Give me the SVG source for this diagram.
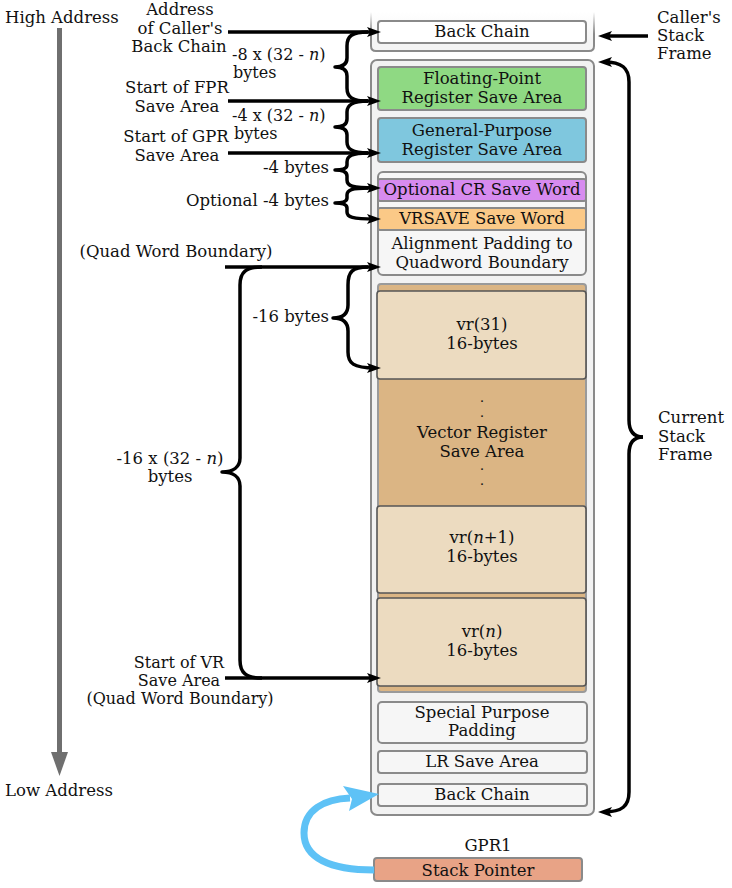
<svg xmlns="http://www.w3.org/2000/svg" width="732" height="888" viewBox="0 0 732 888">
<style>
text{font-family:"DejaVu Serif","Liberation Serif",serif;font-size:16.5px;fill:#111}
.m{text-anchor:middle}
.e{text-anchor:end}
.i{font-style:italic}
.s{font-size:16px}
.dot{font-size:10px;font-weight:bold;text-anchor:middle}
.box{stroke:#8a8a8a;stroke-width:2}
.vr{fill:#ecdbc0;stroke:#555;stroke-width:1.6}
.ln{stroke:#000;stroke-width:3.5;fill:none}
.br{stroke:#000;stroke-width:3.5;fill:none;stroke-linejoin:round}
</style>
<defs>
<marker id="ah" markerUnits="userSpaceOnUse" markerWidth="14" markerHeight="10" refX="8" refY="5" orient="auto">
<path d="M0,0 L14,5 L0,10 L3,5 z" fill="#000"/>
</marker>
<linearGradient id="fade" gradientUnits="userSpaceOnUse" x1="0" y1="12" x2="0" y2="34">
<stop offset="0" stop-color="#8a8a8a" stop-opacity="0"/>
<stop offset="1" stop-color="#8a8a8a" stop-opacity="1"/>
</linearGradient>
<linearGradient id="fadefill" gradientUnits="userSpaceOnUse" x1="0" y1="12" x2="0" y2="40">
<stop offset="0" stop-color="#f4f4f4" stop-opacity="0"/>
<stop offset="1" stop-color="#f4f4f4" stop-opacity="1"/>
</linearGradient>
</defs>

<g id="address-axis">
<text x="5" y="23">High Address</text>
<rect x="57" y="28" width="5" height="728" fill="#6f6f6f"/>
<polygon points="51,752 68,752 59.5,776" fill="#6f6f6f"/>
<text x="5" y="796">Low Address</text>
</g>

<g id="callers-frame">
<path d="M371,12 L371,46 Q371,51 376,51 L589,51 Q594,51 594,46 L594,12" fill="url(#fadefill)" stroke="url(#fade)" stroke-width="2"/>
<rect x="378" y="21" width="208" height="22" rx="3" fill="#fff" class="box"/>
<text x="482" y="37" class="m">Back Chain</text>
</g>

<g id="current-frame">
<rect x="371" y="60" width="223" height="755" rx="6" fill="#f2f2f2" class="box"/>
</g>

<g id="fpr">
<rect x="378" y="67" width="208" height="43" rx="3" fill="#8fd983" class="box"/>
<text x="482" y="84" class="m">Floating-Point</text>
<text x="482" y="103" class="m">Register Save Area</text>
</g>

<g id="gpr">
<rect x="378" y="118" width="208" height="44" rx="3" fill="#7fc7de" class="box"/>
<text x="482" y="136" class="m">General-Purpose</text>
<text x="482" y="155" class="m">Register Save Area</text>
</g>

<g id="word-group">
<rect x="378" y="172" width="208" height="103" rx="5" fill="#f6f6f6" class="box"/>
</g>
<g id="cr">
<rect x="378" y="179" width="208" height="22" rx="2" fill="#d78bef" class="box"/>
<text x="482" y="195" class="m">Optional CR Save Word</text>
</g>
<g id="vrsave">
<rect x="378" y="208" width="208" height="22" rx="2" fill="#fbc987" class="box"/>
<text x="482" y="224" class="m">VRSAVE Save Word</text>
</g>
<g id="alignment">
<text x="482" y="249" class="m">Alignment Padding to</text>
<text x="482" y="268" class="m">Quadword Boundary</text>
</g>

<g id="vr-area">
<rect x="378" y="284" width="208" height="408" rx="3" fill="#dbb584" stroke="#9a9a9a" stroke-width="2"/>
<text x="482" y="402" class="dot">.</text>
<text x="482" y="417" class="dot">.</text>
<text x="482" y="438" class="m">Vector Register</text>
<text x="482" y="457" class="m">Save Area</text>
<text x="482" y="470" class="dot">.</text>
<text x="482" y="485" class="dot">.</text>
</g>
<g id="vr31">
<rect x="377" y="291" width="209" height="88" rx="3" class="vr"/>
<text x="482" y="330" class="m">vr(31)</text>
<text x="482" y="349" class="m">16-bytes</text>
</g>
<g id="vrn1">
<rect x="377" y="506" width="209" height="87" rx="3" class="vr"/>
<text x="482" y="543" class="m">vr(<tspan class="i">n</tspan>+1)</text>
<text x="482" y="562" class="m">16-bytes</text>
</g>
<g id="vrn">
<rect x="377" y="598" width="209" height="88" rx="3" class="vr"/>
<text x="482" y="637" class="m">vr(<tspan class="i">n</tspan>)</text>
<text x="482" y="656" class="m">16-bytes</text>
</g>

<g id="special-padding">
<rect x="378" y="702" width="209" height="41" rx="4" fill="#f6f6f6" class="box"/>
<text x="482" y="718" class="m">Special Purpose</text>
<text x="482" y="736" class="m">Padding</text>
</g>
<g id="lr-save">
<rect x="378" y="751" width="209" height="22" rx="3" fill="#f6f6f6" class="box"/>
<text x="482" y="767" class="m">LR Save Area</text>
</g>
<g id="back-chain">
<rect x="378" y="784" width="209" height="22" rx="3" fill="#f6f6f6" class="box"/>
<text x="482" y="800" class="m">Back Chain</text>
</g>

<g id="stack-pointer">
<text x="488" y="851" class="m">GPR1</text>
<rect x="374" y="858" width="208" height="23" rx="3" fill="#e8a386" class="box"/>
<text x="478" y="876" class="m">Stack Pointer</text>
</g>

<g id="labels">
<text x="180" y="15" class="m">Address</text>
<text x="180" y="34" class="m">of Caller's</text>
<text x="179" y="52" class="m">Back Chain</text>
<text x="232" y="60" class="s">-8 x (32 - <tspan class="i">n</tspan>)</text>
<text x="233" y="78" class="s">bytes</text>
<text x="177" y="93" class="m">Start of FPR</text>
<text x="177" y="112" class="m">Save Area</text>
<text x="232" y="121" class="s">-4 x (32 - <tspan class="i">n</tspan>)</text>
<text x="234" y="139" class="s">bytes</text>
<text x="176" y="142" class="m">Start of GPR</text>
<text x="177" y="161" class="m">Save Area</text>
<text x="329" y="173" class="e">-4 bytes</text>
<text x="329" y="206" class="e">Optional -4 bytes</text>
<text x="176" y="257" class="m">(Quad Word Boundary)</text>
<text x="329" y="322" class="e">-16 bytes</text>
<text x="170" y="464" class="m">-16 x (32 - <tspan class="i">n</tspan>)</text>
<text x="170" y="482" class="m">bytes</text>
<text x="179" y="668" class="m s">Start of VR</text>
<text x="179" y="686" class="m s">Save Area</text>
<text x="180" y="704" class="m s">(Quad Word Boundary)</text>
<text x="657" y="23">Caller's</text>
<text x="657" y="41">Stack</text>
<text x="657" y="59">Frame</text>
<text x="658" y="423">Current</text>
<text x="658" y="442">Stack</text>
<text x="658" y="460">Frame</text>
</g>

<g id="connectors">
<line x1="228" y1="32" x2="375" y2="32" class="ln" marker-end="url(#ah)"/>
<line x1="228" y1="101" x2="375" y2="101" class="ln" marker-end="url(#ah)"/>
<line x1="228" y1="153" x2="375" y2="153" class="ln" marker-end="url(#ah)"/>
<line x1="225" y1="267" x2="375" y2="267" class="ln" marker-end="url(#ah)"/>
<line x1="225" y1="678" x2="375" y2="678" class="ln" marker-end="url(#ah)"/>
<line x1="648" y1="36" x2="604" y2="36" class="ln" marker-end="url(#ah)"/>
<path class="br" d="M368,32 C352,32 347,36 347,46 L347,58 C347,64 343,67 335,67 C343,67 347,70 347,76 L347,88 C347,97 352,101 368,101"/>
<path class="br" d="M368,101 C352,101 347,105 347,112 L347,119 C347,124 343,127 335,127 C343,127 347,130 347,135 L347,142 C347,149 352,153 368,153"/>
<path class="br" d="M368,153 C352,153 347,156 347,162 L347,165 C347,168 343,170 335,170 C343,170 347,172 347,176 L347,180 C347,186 352,188 375,188" marker-end="url(#ah)"/>
<path class="br" d="M368,188 C352,188 347,190 347,195 L347,198 C347,201 343,203 335,203 C343,203 347,205 347,208 L347,212 C347,217 352,219 375,219" marker-end="url(#ah)"/>
<path class="br" d="M368,267 C352,267 348,272 348,285 L348,305 C348,313 344,318 333,318 C344,318 348,323 348,331 L348,352 C348,363 353,368 375,368" marker-end="url(#ah)"/>
<path class="br" d="M262,267 C246,267 240,272 240,285 L240,458 C240,467 233,472 222,472 C233,472 240,477 240,486 L240,660 C240,673 246,678 262,678"/>
<path class="br" d="M643,437 C633,437 629,430 629,420 L629,82 C629,68 622,62 604,62" marker-end="url(#ah)"/>
<path class="br" d="M643,437 C633,437 629,444 629,454 L629,792 C629,806 622,812 604,812" marker-end="url(#ah)"/>
<path d="M374,870 C330,870 304,858 304,833 C304,810 324,799 350,798" fill="none" stroke="#5ec2f6" stroke-width="7"/>
<polygon points="379,794 343,786 352,799 349,811" fill="#5ec2f6"/>
</g>
</svg>
